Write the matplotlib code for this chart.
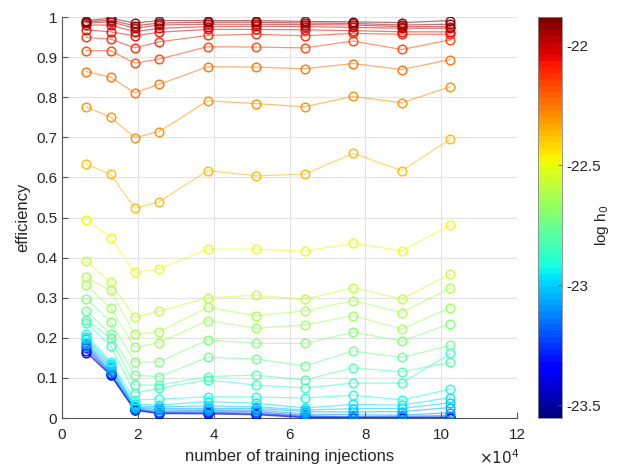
import numpy as np
import matplotlib
matplotlib.use('Agg')
import matplotlib.pyplot as plt
from matplotlib.colors import Normalize
from matplotlib.cm import ScalarMappable

plt.rcParams['font.family'] = ['Liberation Sans', 'DejaVu Sans']

# number of training injections
n_train = np.array([6400, 12800, 19200, 25600, 38400, 51200, 64000, 76800, 89600, 102400])

# log10 of signal amplitude for each curve (low -> high)
log_h0 = [-23.48, -23.35, -23.25, -23.17, -23.11, -23.06, -23.01, -22.96, -22.91,
          -22.86, -22.81, -22.76, -22.71, -22.66, -22.62, -22.57, -22.50, -22.37,
          -22.30, -22.24, -22.17, -22.11, -22.06, -22.01, -21.97, -21.93, -21.90]

# detection efficiency, one row per h0
eff = [
    [0.163, 0.107, 0.019, 0.011, 0.010, 0.008, 0.001, 0.000, 0.000, 0.000],
    [0.167, 0.108, 0.020, 0.012, 0.012, 0.010, 0.002, 0.001, 0.001, 0.001],
    [0.174, 0.110, 0.021, 0.013, 0.014, 0.012, 0.004, 0.002, 0.002, 0.003],
    [0.180, 0.113, 0.023, 0.016, 0.018, 0.016, 0.006, 0.003, 0.004, 0.006],
    [0.184, 0.118, 0.025, 0.020, 0.020, 0.020, 0.010, 0.008, 0.007, 0.013],
    [0.188, 0.125, 0.027, 0.024, 0.024, 0.024, 0.016, 0.015, 0.016, 0.026],
    [0.196, 0.130, 0.030, 0.028, 0.030, 0.028, 0.020, 0.023, 0.024, 0.038],
    [0.203, 0.135, 0.035, 0.032, 0.041, 0.037, 0.025, 0.034, 0.032, 0.051],
    [0.209, 0.140, 0.045, 0.047, 0.053, 0.052, 0.050, 0.057, 0.045, 0.072],
    [0.238, 0.180, 0.062, 0.074, 0.095, 0.082, 0.075, 0.087, 0.087, 0.161],
    [0.244, 0.199, 0.082, 0.082, 0.103, 0.107, 0.095, 0.125, 0.115, 0.139],
    [0.268, 0.209, 0.107, 0.103, 0.151, 0.147, 0.130, 0.167, 0.151, 0.181],
    [0.298, 0.240, 0.140, 0.140, 0.195, 0.186, 0.186, 0.214, 0.192, 0.235],
    [0.332, 0.274, 0.176, 0.188, 0.243, 0.224, 0.232, 0.255, 0.222, 0.275],
    [0.351, 0.318, 0.209, 0.215, 0.276, 0.255, 0.267, 0.293, 0.263, 0.324],
    [0.392, 0.338, 0.251, 0.266, 0.300, 0.306, 0.296, 0.325, 0.297, 0.359],
    [0.495, 0.450, 0.363, 0.372, 0.421, 0.421, 0.416, 0.436, 0.417, 0.481],
    [0.633, 0.608, 0.523, 0.539, 0.617, 0.604, 0.608, 0.660, 0.617, 0.695],
    [0.776, 0.750, 0.699, 0.714, 0.791, 0.784, 0.776, 0.802, 0.786, 0.826],
    [0.864, 0.850, 0.811, 0.832, 0.876, 0.875, 0.871, 0.884, 0.869, 0.894],
    [0.916, 0.916, 0.885, 0.895, 0.926, 0.925, 0.923, 0.940, 0.919, 0.943],
    [0.949, 0.945, 0.923, 0.938, 0.954, 0.957, 0.953, 0.959, 0.957, 0.957],
    [0.968, 0.963, 0.953, 0.962, 0.969, 0.969, 0.968, 0.966, 0.963, 0.963],
    [0.980, 0.980, 0.963, 0.972, 0.976, 0.977, 0.976, 0.974, 0.972, 0.972],
    [0.985, 0.988, 0.972, 0.980, 0.982, 0.982, 0.981, 0.980, 0.976, 0.976],
    [0.988, 0.992, 0.978, 0.985, 0.987, 0.987, 0.985, 0.984, 0.980, 0.982],
    [0.991, 0.997, 0.985, 0.991, 0.991, 0.991, 0.989, 0.988, 0.986, 0.991],
]

txt = '#262626'
cmap = plt.get_cmap('jet', 64)
norm = Normalize(vmin=-23.554, vmax=-21.883)

fig = plt.figure(figsize=(6.36, 4.68), dpi=100)
ax = fig.add_axes([62/636, 50/468, 455/636, 401/468])
cax = fig.add_axes([538/636, 50/468, 24/636, 401/468])

x = n_train / 1e4
for h, y in zip(log_h0, eff):
    c = cmap(norm(h))
    ax.plot(x, y, '-', color=c, lw=0.9, alpha=0.55, zorder=2)
    ax.plot(x, y, 'o', mfc='none', mec=c, ms=6.2, mew=1.1, alpha=0.9, zorder=3)

ax.set_xlim(0, 12)
ax.set_ylim(0, 1)
ax.set_xticks(range(0, 13, 2))
ax.set_yticks(np.arange(0, 1.01, 0.1))
ax.set_yticklabels(['0'] + ['%.1f' % v for v in np.arange(0.1, 0.95, 0.1)] + ['1'])
ax.grid(True, color='#e3e3e3', lw=0.8, zorder=0)
ax.set_axisbelow(True)
for s in ['top', 'right']:
    ax.spines[s].set_visible(False)
for s in ['left', 'bottom']:
    ax.spines[s].set_color('#555555')
    ax.spines[s].set_linewidth(0.8)
ax.tick_params(direction='in', length=4, width=0.8, color='#555555',
               labelsize=11, labelcolor=txt)
ax.tick_params(axis='x', pad=7)
ax.set_xlabel('number of training injections', fontsize=12, color=txt, labelpad=5)
ax.set_ylabel('efficiency', fontsize=12, color=txt, labelpad=4)
ax.text(1.005, -0.098, r'$\times10^{4}$', transform=ax.transAxes, ha='right',
        va='center', fontsize=11, color=txt)

sm = ScalarMappable(norm=norm, cmap=cmap)
cb = fig.colorbar(sm, cax=cax)
cb.set_ticks([-22, -22.5, -23, -23.5])
cb.set_ticklabels(['-22', '-22.5', '-23', '-23.5'])
cb.outline.set_edgecolor('#888888')
cb.outline.set_linewidth(0.6)
cax.tick_params(direction='in', length=3, width=0.6, color='#555555',
                labelsize=11, labelcolor=txt)
cb.set_label(r'log h$_0$', fontsize=11, color=txt)
cax.yaxis.set_label_coords(2.3, 0.48)

fig.savefig('out.png', dpi=100)
